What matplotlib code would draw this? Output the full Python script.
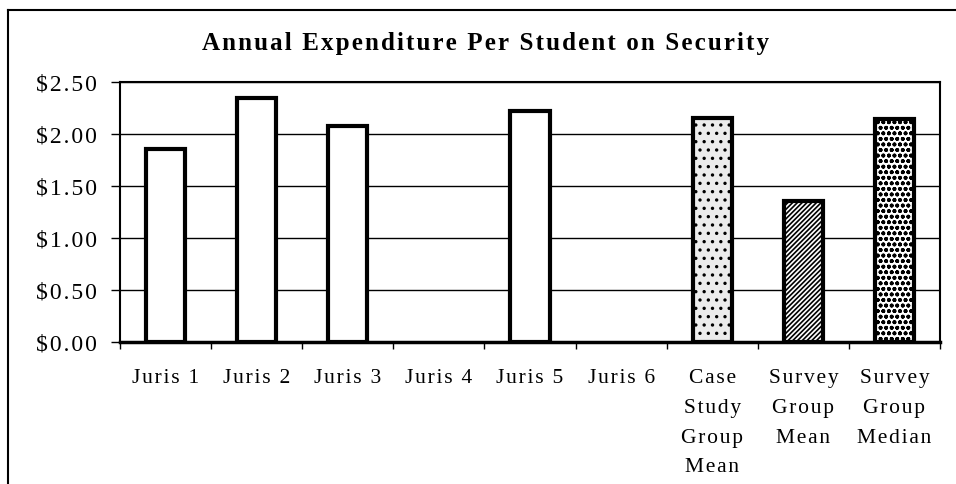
import matplotlib
matplotlib.use("Agg")
import matplotlib.pyplot as plt
from matplotlib.lines import Line2D

categories = ["Juris 1", "Juris 2", "Juris 3", "Juris 4", "Juris 5", "Juris 6",
              "Case\nStudy\nGroup\nMean", "Survey\nGroup\nMean", "Survey\nGroup\nMedian"]
values = [1.86, 2.35, 2.08, 0.0, 2.22, 0.0, 2.15, 1.36, 2.14]
yticks = [0.0, 0.5, 1.0, 1.5, 2.0, 2.5]
ytick_labels = ["$0.00", "$0.50", "$1.00", "$1.50", "$2.00", "$2.50"]
title = "Annual Expenditure Per Student on Security"

faces = ["white"] * 6 + ["#ececec", "white", "white"]
hatches = [None] * 6 + ["..", "///////", "ooo"]

HAIR = "\u200a"


def spaced(s, sep):
    return "\n".join(sep.join(line) for line in s.split("\n"))


plt.rcParams["font.family"] = ["Liberation Serif", "DejaVu Serif"]
plt.rcParams["hatch.linewidth"] = 1.2

fig = plt.figure(figsize=(9.56, 4.85), dpi=100)
ax = fig.add_axes([0.1255, 0.2928, 0.8578, 0.5361])

x = list(range(len(categories)))
for xi, v, fc, h in zip(x, values, faces, hatches):
    if v <= 0:
        continue
    ax.bar(xi, v, width=0.43, facecolor=fc, edgecolor="black", linewidth=3,
           hatch=h, zorder=3)

ax.set_xlim(-0.5, len(categories) - 0.5)
ax.set_ylim(0, 2.5)
ax.set_yticks(yticks)
ax.set_yticklabels([spaced(t, HAIR) for t in ytick_labels], fontsize=17)
ax.yaxis.grid(True, color="black", linewidth=1.0, zorder=0)
ax.set_axisbelow(True)

ax.set_xticks([i - 0.5 for i in range(len(categories) + 1)], minor=False)
ax.set_xticklabels([])
ax.set_xticks(x, minor=True)
ax.set_xticklabels([spaced(c, HAIR) for c in categories], minor=True,
                   fontsize=15.5, linespacing=1.76, va="top")
ax.tick_params(axis="x", which="minor", length=0, pad=19)
ax.tick_params(axis="x", which="major", length=5, width=1, direction="out")
ax.tick_params(axis="y", length=6.5, width=1, direction="out", pad=10)

for s in ax.spines.values():
    s.set_linewidth(1.5)
ax.spines["bottom"].set_linewidth(2.5)

fig.text(0.508, 0.91, spaced(title, HAIR), ha="center", va="center",
         fontsize=18, fontweight="bold")

fig.add_artist(Line2D([0.0085, 1.0], [0.978, 0.978], color="black", linewidth=1.5,
                      transform=fig.transFigure))
fig.add_artist(Line2D([0.0085, 0.0085], [0.978, 0.0], color="black", linewidth=1.5,
                      transform=fig.transFigure))

fig.savefig("out.png", dpi=100)
